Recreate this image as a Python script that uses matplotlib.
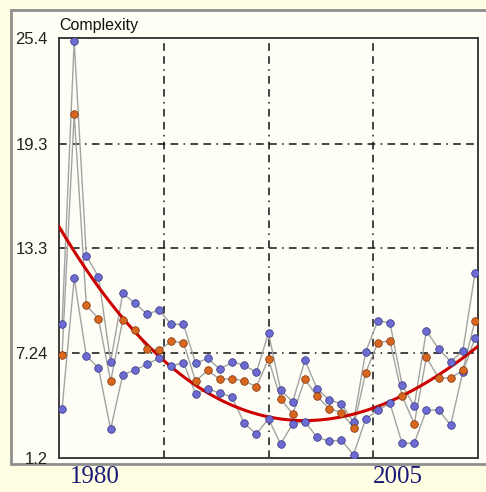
import numpy as np
import matplotlib
matplotlib.use("Agg")
import matplotlib.pyplot as plt
from matplotlib.patches import Rectangle
from matplotlib.transforms import ScaledTranslation

# Werte pro Jahr (oben = max, mitte = mittel, unten = min)
jahre = list(range(1977, 2012))
werte_max = [8.90, 25.2, 12.84, 11.65, 6.75, 10.69, 10.11, 9.50, 9.71, 8.90,
             8.90, 6.66, 6.94, 6.30, 6.74, 6.54, 6.14, 8.40, 5.10, 4.44,
             6.83, 5.19, 4.55, 4.32, 3.27, 7.31, 9.10, 9.00, 5.41, 4.20,
             8.53, 7.49, 6.75, 7.37, 11.84]
werte_mittel = [7.13, 21.0, 10.0, 9.23, 5.62, 9.15, 8.58, 7.50, 7.40, 7.94,
                7.83, 5.64, 6.25, 5.73, 5.78, 5.64, 5.31, 6.90, 4.60, 3.74,
                5.73, 4.75, 4.05, 3.82, 2.95, 6.12, 7.84, 7.95, 4.78, 3.17,
                7.01, 5.81, 5.81, 6.25, 9.11]
werte_min = [4.02, 11.55, 7.08, 6.40, 2.85, 6.00, 6.27, 6.60, 6.96, 6.50,
             6.69, 4.89, 5.17, 4.95, 4.70, 3.20, 2.58, 3.46, 2.00, 3.18,
             3.29, 2.39, 2.18, 2.21, 1.40, 3.45, 3.95, 4.35, 2.05, 2.05,
             3.96, 3.96, 3.10, 6.16, 8.10]

trend_jahre = [1977, 1982, 1985, 1989, 1994, 1997, 2000, 2003, 2005, 2008, 2011]
trend_werte = [14.3, 9.2, 7.0, 4.85, 3.78, 3.49, 3.53, 4.02, 4.78, 5.9, 7.6]

y_ticks = [1.2, 7.24, 13.3, 19.3, 25.4]
x_ticks = [1980, 2005]
titel = "Complexity"

BLAU = "#6b6bd2"
BLAU_RAND = "#34347e"
ORANGE = "#d9661f"
ORANGE_RAND = "#7a3209"
LINIE = "#a3a3a3"
GRID_STIL = (0, (5, 3.5, 5, 3.5, 1, 3.5))


def main():
    fig = plt.figure(figsize=(4.86, 4.92), dpi=100, facecolor="#fffee2")

    # heller Rahmen hinter dem Diagramm
    panel = Rectangle((11 / 486, 28 / 492), 1.0, 454 / 492, transform=fig.transFigure,
                      facecolor="#fefef4", edgecolor="#8e8e8e", linewidth=2.0, zorder=-5)
    fig.patches.append(panel)

    ax = fig.add_axes([59 / 486, 34 / 492, 419 / 486, 420 / 492])
    ax.set_zorder(2)
    ax.set_facecolor("#fefef6")

    x = np.array(jahre, dtype=float)
    ax.set_xlim(x[0] - 0.25, x[-1] + 0.25)
    ax.set_ylim(y_ticks[0], y_ticks[-1])

    # Gitter: horizontal an den Ticks, vertikal in Vierteln
    for yv in y_ticks[1:-1]:
        ax.axhline(yv, color="#111111", lw=1.1, ls=GRID_STIL, zorder=1)
    x0, x1 = ax.get_xlim()
    for xv in np.linspace(x0, x1, 5)[1:-1]:
        ax.axvline(xv, color="#111111", lw=1.1, ls=GRID_STIL, zorder=1)

    for serie in (werte_max, werte_mittel, werte_min):
        ax.plot(x, serie, color=LINIE, lw=1.0, zorder=2)

    tj = np.array(trend_jahre, dtype=float)
    koeff = np.polyfit(tj - tj[0], trend_werte, 3)
    xx = np.linspace(x0, x1, 200)
    ax.plot(xx, np.polyval(koeff, xx - tj[0]), color="#cc0000", lw=2.2, zorder=3)

    ax.plot(x, werte_max, "o", ms=5.5, mfc=BLAU, mec=BLAU_RAND, mew=0.5, zorder=4)
    ax.plot(x, werte_min, "o", ms=5.5, mfc=BLAU, mec=BLAU_RAND, mew=0.5, zorder=4)
    ax.plot(x, werte_mittel, "o", ms=5.5, mfc=ORANGE, mec=ORANGE_RAND, mew=0.5, zorder=4)

    ax.set_yticks(y_ticks)
    ax.set_yticklabels([f"{v:g}" for v in y_ticks], fontsize=12,
                       family="Liberation Sans", color="#222222")
    ax.set_xticks(x_ticks)
    ax.set_xticklabels([str(v) for v in x_ticks], fontsize=18,
                       family="Liberation Serif", color="#1c1c78")
    ax.tick_params(axis="both", length=0)
    ax.tick_params(axis="y", pad=8)
    ax.tick_params(axis="x", pad=6)
    verschub = ScaledTranslation(-4 / 100, 0, fig.dpi_scale_trans)
    for lbl in ax.get_xticklabels():
        lbl.set_transform(lbl.get_transform() + verschub)

    for sp in ax.spines.values():
        sp.set_color("#3c3c3c")
        sp.set_linewidth(1.4)

    ax.text(0.0, 1.012, titel, transform=ax.transAxes, fontsize=11.5,
            family="Liberation Sans", color="#111111", ha="left", va="bottom")

    fig.savefig("out.png", dpi=100, facecolor=fig.get_facecolor())


if __name__ == "__main__":
    main()
